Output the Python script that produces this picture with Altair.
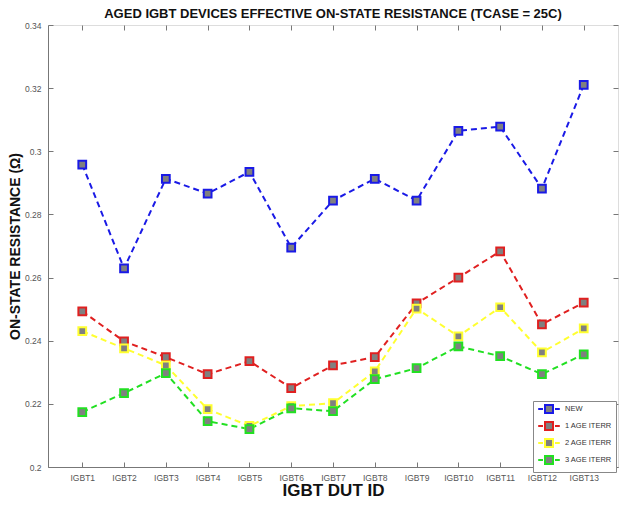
import altair as alt
import pandas as pd

devices = [f"IGBT{i}" for i in range(1, 14)]
series_names = ["NEW", "1 AGE ITERR", "2 AGE ITERR", "3 AGE ITERR"]
series_colors = ["#1a1ae6", "#e02020", "#ffff30", "#22e022"]

new_vals = [0.2958, 0.2629, 0.2913, 0.2866, 0.2935, 0.2695, 0.2844, 0.2913, 0.2844, 0.3065, 0.3078, 0.2882, 0.3210]
age1_vals = [0.2493, 0.2398, 0.2348, 0.2294, 0.2335, 0.2250, 0.2322, 0.2348, 0.2518, 0.2600, 0.2683, 0.2452, 0.2521]
age2_vals = [0.2430, 0.2376, 0.2322, 0.2183, 0.2130, 0.2193, 0.2202, 0.2303, 0.2502, 0.2414, 0.2506, 0.2363, 0.2439]
age3_vals = [0.2174, 0.2234, 0.2297, 0.2145, 0.2120, 0.2186, 0.2177, 0.2278, 0.2313, 0.2382, 0.2351, 0.2294, 0.2357]

y_ticks = [0.2, 0.22, 0.24, 0.26, 0.28, 0.3, 0.32, 0.34]

rows = []
for name, vals in zip(series_names, [new_vals, age1_vals, age2_vals, age3_vals]):
    for d, v in zip(devices, vals):
        rows.append({"device": d, "value": v, "series": name})
df = pd.DataFrame(rows)

FONT = "Liberation Sans"
TICK = "#777777"
LEGEND_SYMBOL = "M -3.6 0 H -2 M 2 0 H 3.6 M -1.33 -1.33 H 1.33 V 1.33 H -1.33 Z"

x_scale = alt.Scale(type="point", padding=0.82)
y_scale = alt.Scale(domain=[0.2, 0.34], nice=False, zero=False)
color_scale = alt.Scale(domain=series_names, range=series_colors)

x_enc = alt.X("device:N", sort=devices, scale=x_scale,
              axis=alt.Axis(title="IGBT DUT ID", labelAngle=0, labelFontSize=8.5,
                            labelColor="#555555", titleFontSize=17, titleFontWeight="bold",
                            titleColor="#111111", titlePadding=1, ticks=False,
                            domainColor=TICK, labelPadding=6))
y_enc = alt.Y("value:Q", scale=y_scale,
              axis=alt.Axis(title="ON-STATE RESISTANCE (Ω)", values=y_ticks,
                            format="~g", labelFontSize=8.5, labelColor="#555555",
                            titleFontSize=14, titleFontWeight="bold", titleColor="#111111",
                            titlePadding=2, ticks=False,
                            domainColor=TICK, grid=False, labelPadding=7))
color_enc = alt.Color("series:N", sort=series_names, scale=color_scale,
                      legend=alt.Legend(title=None, orient="none", legendX=485, legendY=376,
                                        symbolType=LEGEND_SYMBOL, symbolFillColor="#808080",
                                        symbolStrokeWidth=2, symbolSize=36,
                                        symbolOffset=8,
                                        labelFontSize=7.5, labelColor="#333333",
                                        strokeColor="#888888", fillColor="white",
                                        padding=4, rowPadding=1, labelFont=FONT,
                                        labelOffset=12))

lines = alt.Chart(df).mark_line(strokeDash=[6, 4], strokeWidth=2).encode(
    x=x_enc, y=y_enc, color=color_enc, detail="series:N")

points = alt.Chart(df).mark_point(shape="square", filled=False, size=60,
                                  strokeWidth=2, fill="#808080", fillOpacity=1, opacity=1).encode(
    x=alt.X("device:N", sort=devices, scale=x_scale, axis=None),
    y=alt.Y("value:Q", scale=y_scale, axis=None),
    stroke=alt.Stroke("series:N", sort=series_names, scale=color_scale, legend=None))

mirror_tr = alt.Chart(df).mark_point(opacity=0).encode(
    x=alt.X("device:N", sort=devices, scale=x_scale,
            axis=alt.Axis(orient="top", labels=False, title=None, domain=False,
                          tickSize=5, offset=-5, tickColor=TICK)),
    y=alt.Y("value:Q", scale=y_scale,
            axis=alt.Axis(orient="right", labels=False, title=None, domain=False,
                          values=y_ticks, tickSize=5, offset=-5,
                          tickColor=TICK, grid=False)))

mirror_bl = alt.Chart(df).mark_point(opacity=0).encode(
    x=alt.X("device:N", sort=devices, scale=x_scale,
            axis=alt.Axis(orient="bottom", labels=False, title=None, domain=False,
                          tickSize=5, offset=-5, tickColor=TICK)),
    y=alt.Y("value:Q", scale=y_scale,
            axis=alt.Axis(orient="left", labels=False, title=None, domain=False,
                          values=y_ticks, tickSize=5, offset=-5,
                          tickColor=TICK, grid=False)))

chart = alt.layer(lines, points, mirror_tr, mirror_bl).resolve_axis(
    x="independent", y="independent"
).properties(
    width=570, height=442, padding=0,
    title=alt.Title("AGED IGBT DEVICES EFFECTIVE ON-STATE RESISTANCE (TCASE = 25C)",
                    fontSize=13, fontWeight="bold", color="#111111", offset=0, font=FONT)
).configure_view(stroke=TICK, strokeWidth=1).configure_axis(
    labelFont=FONT, titleFont=FONT
).configure(background="white")

chart.save("out.html", embed_options={"renderer": "svg", "actions": False})
